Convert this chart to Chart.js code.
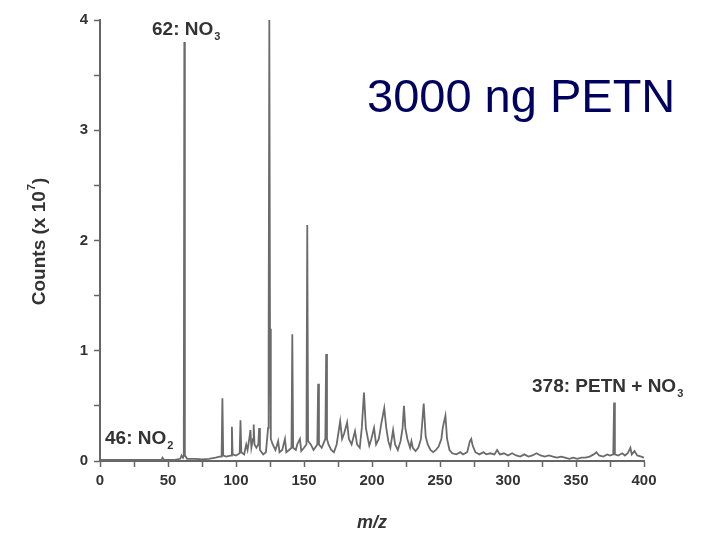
<!DOCTYPE html>
<html>
<head>
<meta charset="utf-8">
<script src="https://cdn.jsdelivr.net/npm/chart.js@4.4.0/dist/chart.umd.min.js"></script>
<style>
html,body{margin:0;padding:0;background:#fff;}
canvas{display:block;}
</style>
</head>
<body>
<canvas id="c" width="703" height="534"></canvas>
<script>
// m/z positions and counts (x 10^7)
const mz = [0,10,20,30,40,45,46,47,55,59,60,61,61.6,62,62.4,63,64,70,75,80,85,88,89.4,90,90.6,93,96.5,97,97.5,100,102.7,103.3,103.9,106,107.5,108.5,110,110.6,111.3,112.5,113,113.6,115,116.4,117,117.6,120,122,123.6,124,124.5,125,125.6,127,129,131,132,134,136,137,139,140.8,141.4,142,144,145,147,148,150,151.8,152.4,153,155,157,159.8,160.4,161,163,165.7,166.3,166.9,168,170,172,174,176.6,178,179.5,181.7,183,185,187.5,189,191,192.5,194.1,195.5,197,198,199.5,201.5,203,205,207,209,210.5,212,213.5,215.5,217,219,221,222.5,223.5,224.5,226,228,229,230,232,234,236,238,239.5,241,243,245,247,249,251,252,254,255.2,257,259,262,265,267,270,272,273,274,276,279,282,284,287,290,292,294,297,300,303,306,309,312,315,318,321,324,327,330,333,336,339,342,345,348,351,354,357,360,363,365,367,370,373,375,377.4,378,378.6,381,384,386,388,390,391,393,395,398,400];
const counts = [0.01,0.01,0.01,0.01,0.01,0.01,0.03,0.01,0.01,0.02,0.05,0.03,0.05,3.8,0.05,0.04,0.02,0.02,0.015,0.02,0.03,0.04,0.04,0.57,0.05,0.04,0.05,0.31,0.06,0.05,0.07,0.37,0.08,0.06,0.15,0.1,0.22,0.28,0.12,0.2,0.33,0.15,0.12,0.15,0.3,0.1,0.06,0.08,0.3,1.06,4.0,1.2,0.2,0.15,0.1,0.18,0.08,0.1,0.2,0.08,0.1,0.12,1.15,0.12,0.1,0.15,0.2,0.09,0.12,0.15,2.14,0.18,0.15,0.1,0.15,0.7,0.15,0.12,0.2,0.97,0.2,0.15,0.1,0.08,0.15,0.36,0.2,0.25,0.35,0.2,0.15,0.27,0.15,0.12,0.3,0.62,0.3,0.2,0.14,0.2,0.3,0.15,0.2,0.35,0.48,0.3,0.18,0.12,0.28,0.15,0.1,0.18,0.3,0.5,0.3,0.2,0.12,0.18,0.12,0.09,0.12,0.2,0.52,0.22,0.15,0.1,0.08,0.1,0.13,0.2,0.3,0.41,0.2,0.1,0.07,0.06,0.08,0.06,0.08,0.18,0.2,0.14,0.08,0.06,0.08,0.06,0.07,0.06,0.1,0.06,0.07,0.05,0.07,0.05,0.04,0.06,0.04,0.05,0.07,0.05,0.04,0.05,0.04,0.03,0.04,0.03,0.02,0.03,0.02,0.03,0.03,0.04,0.06,0.08,0.05,0.04,0.06,0.05,0.06,0.53,0.06,0.05,0.07,0.05,0.07,0.12,0.06,0.09,0.05,0.04,0.03];

const xTicks = [0,50,100,150,200,250,300,350,400];
const yTicks = [0,1,2,3,4];

const title = "3000 ng PETN";
const annotations = [
  {x:152, y:35, main:"62: NO", sub:"3"},
  {x:105, y:444, main:"46: NO", sub:"2"},
  {x:532, y:392, main:"378: PETN + NO", sub:"3"}
];

const points = mz.map((m,i)=>({x:m, y:counts[i]}));
const FONT = '"Liberation Sans", Arial, sans-serif';

const textPlugin = {
  id:'texts',
  afterDraw(chart){
    const ctx = chart.ctx;
    ctx.save();
    // title
    ctx.fillStyle = '#00005e';
    ctx.font = '47px ' + FONT;
    ctx.textBaseline = 'alphabetic';
    ctx.textAlign = 'left';
    ctx.fillText(title, 367, 112);
    // annotations
    ctx.fillStyle = '#333';
    annotations.forEach(a=>{
      ctx.font = 'bold 19px ' + FONT;
      ctx.fillText(a.main, a.x, a.y);
      const w = ctx.measureText(a.main).width;
      ctx.font = 'bold 11px ' + FONT;
      ctx.fillText(a.sub, a.x + w + 1, a.y + 5);
    });
    // y title
    ctx.save();
    ctx.translate(45, 242);
    ctx.rotate(-Math.PI/2);
    const t1 = "Counts (x 10", t2 = "7", t3 = ")";
    ctx.font = 'bold 19px ' + FONT;
    const w1 = ctx.measureText(t1).width;
    const w3 = ctx.measureText(t3).width;
    ctx.font = 'bold 11px ' + FONT;
    const w2 = ctx.measureText(t2).width;
    let sx = -(w1+w2+w3)/2;
    ctx.textAlign = 'left';
    ctx.font = 'bold 19px ' + FONT;
    ctx.fillText(t1, sx, 0);
    ctx.font = 'bold 11px ' + FONT;
    ctx.fillText(t2, sx + w1 + 1, -10);
    ctx.font = 'bold 19px ' + FONT;
    ctx.fillText(t3, sx + w1 + w2 + 1, 0);
    ctx.restore();
    // x title
    ctx.textAlign = 'center';
    ctx.font = 'italic bold 18px ' + FONT;
    ctx.fillText("m/z", 372, 528);
    ctx.restore();
  }
};

new Chart(document.getElementById('c'), {
  type:'line',
  data:{datasets:[{data:points, borderColor:'#6b6b6b', borderWidth:1.8, pointRadius:0, tension:0, fill:false}]},
  options:{
    responsive:false, animation:false, devicePixelRatio:1,
    layout:{padding:{top:20, right:59, left:0, bottom:0}},
    plugins:{legend:{display:false}, tooltip:{enabled:false}, title:{display:false}},
    scales:{
      x:{type:'linear', min:0, max:400,
        afterFit(s){ s.height = 73; },
        ticks:{stepSize:25, autoSkip:false, maxRotation:0, padding:5, color:'#333',
          font:{family:FONT, size:15, weight:'bold'},
          callback:v=> xTicks.includes(v) ? String(v) : ''},
        grid:{drawOnChartArea:false, drawTicks:true, tickLength:6, tickColor:'#666', tickWidth:1.5},
        border:{display:true, color:'#666', width:2}
      },
      y:{min:0, max:4,
        afterFit(s){ s.width = 100; },
        ticks:{stepSize:0.5, autoSkip:false, padding:6, color:'#333',
          font:{family:FONT, size:15, weight:'bold'},
          callback:v=> yTicks.includes(v) ? String(v) : ''},
        grid:{drawOnChartArea:false, drawTicks:true, tickLength:6, tickColor:'#666', tickWidth:1.5},
        border:{display:true, color:'#666', width:2}
      }
    }
  },
  plugins:[textPlugin]
});
</script>
</body>
</html>
